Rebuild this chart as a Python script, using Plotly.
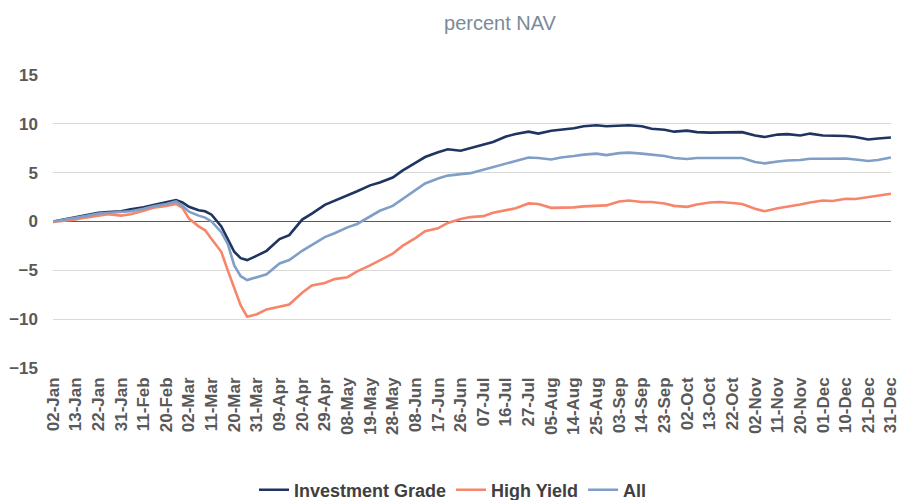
import pandas as pd
import plotly.graph_objects as go

# ---- axis categories: trading days of 2020 (25-Dec absent) ----
all_days = [d for d in pd.bdate_range("2020-01-02", "2020-12-31") if d.strftime("%m-%d") != "12-25"]
categories = [d.strftime("%d-%b") for d in all_days]
tick_labels = categories[::7]

sample_dates = [
    "02-Jan", "07-Jan", "13-Jan", "16-Jan", "22-Jan", "27-Jan", "31-Jan", "05-Feb", "11-Feb", "14-Feb",
    "20-Feb", "25-Feb", "27-Feb", "02-Mar", "05-Mar", "09-Mar", "11-Mar", "16-Mar", "18-Mar", "20-Mar",
    "24-Mar", "26-Mar", "31-Mar", "03-Apr", "09-Apr", "14-Apr", "20-Apr", "23-Apr", "29-Apr", "04-May",
    "08-May", "13-May", "19-May", "22-May", "28-May", "02-Jun", "08-Jun", "11-Jun", "17-Jun", "22-Jun",
    "26-Jun", "01-Jul", "07-Jul", "10-Jul", "16-Jul", "21-Jul", "27-Jul", "30-Jul", "05-Aug", "10-Aug",
    "14-Aug", "19-Aug", "25-Aug", "28-Aug", "03-Sep", "08-Sep", "14-Sep", "17-Sep", "23-Sep", "28-Sep",
    "02-Oct", "07-Oct", "13-Oct", "16-Oct", "22-Oct", "27-Oct", "02-Nov", "05-Nov", "11-Nov", "16-Nov",
    "20-Nov", "25-Nov", "01-Dec", "04-Dec", "10-Dec", "15-Dec", "21-Dec", "24-Dec", "31-Dec",
]

investment_grade = [
    0.0, 0.2, 0.45, 0.65, 0.88, 0.98, 1.05, 1.25, 1.45, 1.7,
    1.95, 2.2, 1.95, 1.5, 1.15, 1.05, 0.7, -0.5, -1.8, -3.1,
    -3.75, -3.95, -3.5, -3.0, -1.8, -1.4, 0.2, 0.8, 1.7, 2.1,
    2.7, 3.1, 3.7, 4.0, 4.5, 5.2, 6.0, 6.6, 7.1, 7.4,
    7.25, 7.5, 7.9, 8.15, 8.7, 8.95, 9.2, 9.0, 9.3, 9.4,
    9.55, 9.75, 9.85, 9.75, 9.8, 9.85, 9.75, 9.5, 9.4, 9.2,
    9.3, 9.15, 9.1, 9.1, 9.15, 9.15, 8.8, 8.65, 8.9, 8.95,
    8.8, 9.0, 8.8, 8.8, 8.75, 8.65, 8.4, 8.5, 8.6,
]

high_yield = [
    -0.05, 0.05, 0.2, 0.4, 0.62, 0.75, 0.6, 0.75, 1.1, 1.4,
    1.6, 1.8, 1.4, 0.3, -0.5, -0.9, -1.8, -3.1, -5.0, -6.8,
    -8.6, -9.75, -9.5, -9.0, -8.7, -8.5, -7.3, -6.55, -6.3, -5.9,
    -5.7, -5.1, -4.5, -3.95, -3.3, -2.5, -1.7, -1.0, -0.7, -0.15,
    0.25, 0.45, 0.55, 0.9, 1.15, 1.35, 1.85, 1.8, 1.4, 1.4,
    1.45, 1.55, 1.57, 1.65, 2.05, 2.15, 2.0, 2.0, 1.85, 1.6,
    1.5, 1.75, 1.95, 2.0, 1.9, 1.8, 1.3, 1.05, 1.35, 1.5,
    1.75, 1.95, 2.15, 2.1, 2.32, 2.3, 2.5, 2.6, 2.85,
]

all_funds = [
    0.0, 0.15, 0.35, 0.55, 0.82, 0.9, 0.95, 1.05, 1.3, 1.55,
    1.8, 2.05, 1.6, 1.0, 0.6, 0.4, 0.0, -1.1, -2.3, -4.5,
    -5.6, -6.0, -5.7, -5.4, -4.3, -3.95, -3.0, -2.4, -1.6, -1.2,
    -0.6, -0.25, 0.5, 1.1, 1.6, 2.3, 3.2, 3.9, 4.4, 4.7,
    4.85, 4.95, 5.3, 5.55, 5.95, 6.2, 6.55, 6.5, 6.35, 6.55,
    6.7, 6.85, 6.95, 6.8, 7.0, 7.05, 6.95, 6.85, 6.7, 6.5,
    6.4, 6.5, 6.5, 6.45, 6.5, 6.5, 6.1, 5.95, 6.15, 6.25,
    6.3, 6.42, 6.42, 6.45, 6.45, 6.35, 6.2, 6.3, 6.55,
]

series = [
    ("Investment Grade", investment_grade, "#1f3461"),
    ("High Yield", high_yield, "#f7856a"),
    ("All", all_funds, "#7f9fc6"),
]

FONT = "Liberation Sans, Arial, sans-serif"

fig = go.Figure()
# scaffold trace so every trading day exists on the category axis
fig.add_trace(go.Scatter(x=categories, y=[None] * len(categories), mode="lines",
                         showlegend=False, hoverinfo="skip"))
for name, vals, color in series:
    fig.add_trace(go.Scatter(x=sample_dates, y=vals, mode="lines", name=name,
                             line=dict(color=color, width=2.6)))

fig.update_layout(
    width=900, height=500,
    paper_bgcolor="white", plot_bgcolor="white",
    margin=dict(l=53, r=9, t=75, b=132, autoexpand=False),
    title=dict(text="percent NAV", x=500 / 900, xref="container", xanchor="center",
               y=1 - 23 / 500, yref="container", yanchor="middle",
               font=dict(family=FONT, size=20, color="#7b8a97")),
    legend=dict(orientation="h", x=453 / 900, xref="container", xanchor="center",
                y=1 - 490 / 500, yref="container", yanchor="middle",
                font=dict(family=FONT, size=18, color="#404040", weight="bold"),
                itemwidth=30, tracegroupgap=0),
    showlegend=True,
)
fig.update_xaxes(
    type="category", categoryorder="array", categoryarray=categories,
    range=[-0.02, len(categories) - 1 + 0.02],
    tickmode="array", tickvals=tick_labels, ticktext=tick_labels,
    tickangle=-90, showgrid=False, showline=False, zeroline=False, ticks="",
    tickfont=dict(family=FONT, size=17, color="#595959", weight="bold"),
    ticklabelstandoff=5,
    automargin=False,
)
fig.update_yaxes(
    range=[-15, 15], tickvals=[-15, -10, -5, 0, 5, 10, 15],
    showgrid=True, gridcolor="#d9d9d9", gridwidth=1,
    zeroline=True, zerolinecolor="#595959", zerolinewidth=1,
    showline=False, ticks="",
    tickfont=dict(family=FONT, size=17, color="#595959", weight="bold"),
    ticklabelstandoff=14,
    automargin=False,
)

fig.write_html("out.html", config={"displayModeBar": False},
               post_script="document.body.style.margin='0';document.body.style.overflow='hidden';")
